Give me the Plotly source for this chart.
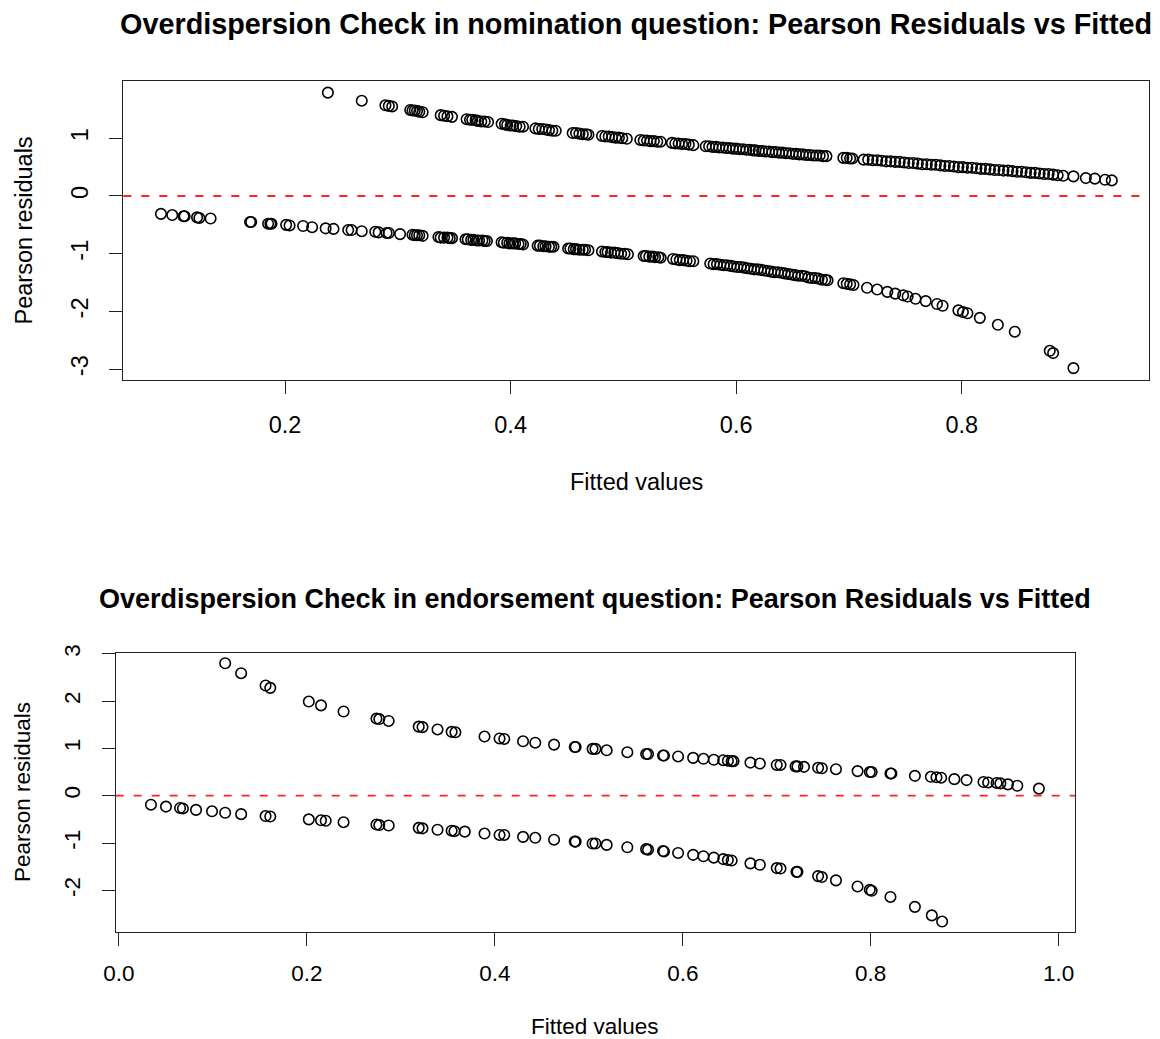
import plotly.graph_objects as go

# ---------------- data ----------------
# Top panel: nomination question, (fitted value, Pearson residual)
nom_negative = [
    (0.090, -0.31), (0.100, -0.33), (0.110, -0.35), (0.111, -0.35), (0.122, -0.37), (0.124, -0.38), (0.134, -0.39),
    (0.169, -0.45), (0.170, -0.45), (0.185, -0.48), (0.187, -0.48), (0.188, -0.48), (0.201, -0.50), (0.204, -0.51),
    (0.216, -0.52), (0.224, -0.54), (0.236, -0.56), (0.243, -0.57), (0.256, -0.59), (0.259, -0.59), (0.268, -0.61),
    (0.280, -0.62), (0.283, -0.63), (0.290, -0.64), (0.292, -0.64), (0.302, -0.66),
    (0.313, -0.67), (0.315, -0.68), (0.317, -0.68), (0.319, -0.68), (0.322, -0.69),
    (0.336, -0.71), (0.338, -0.72), (0.341, -0.72), (0.344, -0.72), (0.346, -0.73), (0.348, -0.73),
    (0.360, -0.75), (0.362, -0.75), (0.365, -0.76), (0.367, -0.76), (0.370, -0.77), (0.372, -0.77), (0.375, -0.77),
    (0.377, -0.78), (0.379, -0.78),
    (0.392, -0.80), (0.394, -0.81), (0.397, -0.81), (0.399, -0.82), (0.402, -0.82), (0.404, -0.82), (0.407, -0.83),
    (0.409, -0.83), (0.411, -0.84),
    (0.424, -0.86), (0.426, -0.86), (0.429, -0.87), (0.431, -0.87), (0.434, -0.88), (0.436, -0.88), (0.438, -0.88),
    (0.451, -0.91), (0.453, -0.91), (0.456, -0.92), (0.458, -0.92), (0.461, -0.93), (0.464, -0.93), (0.466, -0.93),
    (0.469, -0.94),
    (0.481, -0.96), (0.484, -0.97), (0.486, -0.97), (0.489, -0.98), (0.492, -0.98), (0.495, -0.99), (0.498, -1.00),
    (0.501, -1.00), (0.504, -1.01),
    (0.518, -1.04), (0.520, -1.04), (0.523, -1.05), (0.526, -1.05), (0.528, -1.06), (0.531, -1.06), (0.533, -1.07),
    (0.544, -1.09), (0.547, -1.10), (0.550, -1.11), (0.553, -1.11), (0.556, -1.12), (0.559, -1.13), (0.562, -1.13),
    (0.577, -1.17), (0.580, -1.18), (0.583, -1.18), (0.586, -1.19), (0.589, -1.20), (0.592, -1.20), (0.595, -1.21),
    (0.598, -1.22), (0.601, -1.23), (0.604, -1.23), (0.607, -1.24), (0.610, -1.25), (0.613, -1.26), (0.616, -1.27),
    (0.619, -1.27),
    (0.622, -1.28), (0.625, -1.29), (0.628, -1.30), (0.631, -1.31), (0.634, -1.32), (0.637, -1.32), (0.640, -1.33),
    (0.643, -1.34), (0.646, -1.35), (0.649, -1.36), (0.652, -1.37), (0.655, -1.38), (0.658, -1.38), (0.661, -1.39),
    (0.664, -1.41), (0.667, -1.42), (0.670, -1.42), (0.673, -1.43), (0.676, -1.45), (0.679, -1.45), (0.681, -1.46),
    (0.695, -1.51), (0.698, -1.52), (0.701, -1.53), (0.704, -1.54),
    (0.716, -1.59), (0.725, -1.62), (0.734, -1.66), (0.741, -1.69), (0.748, -1.72), (0.752, -1.74), (0.759, -1.78),
    (0.768, -1.82), (0.778, -1.87), (0.783, -1.90), (0.797, -1.98), (0.801, -2.01), (0.805, -2.03), (0.816, -2.11),
    (0.832, -2.23), (0.847, -2.35), (0.878, -2.68), (0.881, -2.72), (0.899, -2.98),
]

nom_positive = [
    (0.238, 1.79), (0.268, 1.65), (0.289, 1.57), (0.292, 1.56), (0.295, 1.55),
    (0.311, 1.49), (0.313, 1.48), (0.315, 1.48), (0.317, 1.47), (0.319, 1.46), (0.322, 1.45),
    (0.338, 1.40), (0.341, 1.39), (0.344, 1.38), (0.348, 1.37),
    (0.361, 1.33), (0.364, 1.32), (0.366, 1.32), (0.369, 1.31), (0.371, 1.30), (0.374, 1.29), (0.377, 1.29),
    (0.380, 1.28),
    (0.392, 1.25), (0.395, 1.24), (0.397, 1.23), (0.400, 1.22), (0.402, 1.22), (0.405, 1.21), (0.408, 1.20),
    (0.411, 1.20),
    (0.422, 1.17), (0.425, 1.16), (0.428, 1.16), (0.431, 1.15), (0.434, 1.14), (0.437, 1.13), (0.440, 1.13),
    (0.455, 1.09), (0.458, 1.09), (0.461, 1.08), (0.464, 1.07), (0.467, 1.07), (0.469, 1.06),
    (0.481, 1.04), (0.484, 1.03), (0.487, 1.03), (0.490, 1.02), (0.493, 1.01), (0.496, 1.01), (0.499, 1.00),
    (0.503, 0.99),
    (0.515, 0.97), (0.518, 0.96), (0.521, 0.96), (0.524, 0.95), (0.527, 0.95), (0.530, 0.94), (0.533, 0.94),
    (0.543, 0.92), (0.546, 0.91), (0.549, 0.91), (0.552, 0.90), (0.555, 0.90), (0.558, 0.89), (0.562, 0.88),
    (0.573, 0.86), (0.576, 0.86), (0.579, 0.85), (0.582, 0.85), (0.585, 0.84), (0.588, 0.84), (0.591, 0.83),
    (0.594, 0.83), (0.597, 0.82), (0.600, 0.82), (0.603, 0.81), (0.606, 0.81), (0.609, 0.80), (0.612, 0.80),
    (0.615, 0.79), (0.617, 0.79),
    (0.620, 0.78), (0.623, 0.78), (0.626, 0.77), (0.629, 0.77), (0.632, 0.76), (0.635, 0.76), (0.638, 0.75),
    (0.641, 0.75), (0.644, 0.74), (0.647, 0.74), (0.650, 0.73), (0.653, 0.73), (0.656, 0.72), (0.659, 0.72),
    (0.662, 0.71), (0.665, 0.71), (0.668, 0.70), (0.671, 0.70), (0.674, 0.70), (0.677, 0.69), (0.680, 0.69),
    (0.695, 0.66), (0.698, 0.66), (0.701, 0.65), (0.703, 0.65),
    (0.713, 0.63), (0.717, 0.63), (0.721, 0.62), (0.725, 0.62), (0.729, 0.61), (0.733, 0.60), (0.737, 0.60),
    (0.741, 0.59), (0.745, 0.59), (0.749, 0.58), (0.753, 0.57), (0.757, 0.57), (0.761, 0.56), (0.765, 0.55),
    (0.769, 0.55), (0.773, 0.54), (0.777, 0.54), (0.781, 0.53), (0.785, 0.52), (0.789, 0.52), (0.793, 0.51),
    (0.797, 0.50), (0.801, 0.50), (0.805, 0.49), (0.809, 0.49), (0.813, 0.48), (0.817, 0.47), (0.821, 0.47),
    (0.825, 0.46), (0.829, 0.45), (0.833, 0.45), (0.837, 0.44), (0.841, 0.44), (0.845, 0.43), (0.849, 0.42),
    (0.853, 0.42), (0.857, 0.41), (0.861, 0.40), (0.865, 0.40), (0.869, 0.39), (0.873, 0.38), (0.877, 0.38),
    (0.881, 0.37), (0.885, 0.36), (0.890, 0.35), (0.899, 0.34), (0.910, 0.31), (0.918, 0.30), (0.927, 0.28),
    (0.933, 0.27),
]

# Bottom panel: endorsement question
end_negative = [
    (0.034, -0.19), (0.050, -0.23), (0.065, -0.26), (0.068, -0.27), (0.082, -0.30), (0.099, -0.33), (0.113, -0.36),
    (0.130, -0.39), (0.156, -0.43), (0.161, -0.44), (0.202, -0.50), (0.215, -0.52), (0.220, -0.53), (0.239, -0.56),
    (0.274, -0.61), (0.277, -0.62), (0.287, -0.63), (0.319, -0.68), (0.323, -0.69), (0.339, -0.72), (0.354, -0.74),
    (0.357, -0.75), (0.368, -0.76), (0.389, -0.80), (0.405, -0.83), (0.410, -0.83), (0.430, -0.87), (0.443, -0.89),
    (0.463, -0.93), (0.485, -0.97), (0.486, -0.97), (0.504, -1.01), (0.507, -1.01), (0.519, -1.04), (0.541, -1.09),
    (0.561, -1.13), (0.563, -1.14), (0.579, -1.17), (0.580, -1.18), (0.595, -1.21), (0.611, -1.25), (0.622, -1.28),
    (0.633, -1.31), (0.643, -1.34), (0.648, -1.36), (0.652, -1.37), (0.672, -1.43), (0.682, -1.46), (0.700, -1.53),
    (0.704, -1.54), (0.721, -1.61), (0.722, -1.61), (0.744, -1.70), (0.748, -1.72), (0.763, -1.79), (0.786, -1.92),
    (0.799, -1.99), (0.801, -2.01), (0.821, -2.14), (0.847, -2.35), (0.865, -2.53), (0.876, -2.66),
]

end_positive = [
    (0.113, 2.80), (0.130, 2.59), (0.156, 2.33), (0.161, 2.28), (0.202, 1.99), (0.215, 1.91), (0.239, 1.78),
    (0.274, 1.63), (0.277, 1.62), (0.287, 1.58), (0.319, 1.46), (0.323, 1.45), (0.339, 1.40), (0.354, 1.35),
    (0.358, 1.34), (0.389, 1.25), (0.405, 1.21), (0.410, 1.20), (0.430, 1.15), (0.443, 1.12), (0.463, 1.08),
    (0.485, 1.03), (0.486, 1.03), (0.504, 0.99), (0.507, 0.99), (0.519, 0.96), (0.541, 0.92), (0.561, 0.88),
    (0.563, 0.88), (0.579, 0.85), (0.580, 0.85), (0.595, 0.83), (0.611, 0.80), (0.622, 0.78), (0.633, 0.76),
    (0.643, 0.75), (0.648, 0.74), (0.652, 0.73), (0.654, 0.73), (0.672, 0.70), (0.682, 0.68), (0.700, 0.65),
    (0.704, 0.65), (0.720, 0.62), (0.722, 0.62), (0.729, 0.61), (0.744, 0.59), (0.748, 0.58), (0.763, 0.56),
    (0.786, 0.52), (0.799, 0.50), (0.801, 0.50), (0.821, 0.47), (0.822, 0.47), (0.847, 0.42), (0.864, 0.40),
    (0.870, 0.39), (0.875, 0.38), (0.889, 0.35), (0.902, 0.33), (0.920, 0.29), (0.925, 0.28), (0.934, 0.27),
    (0.938, 0.26), (0.946, 0.24), (0.956, 0.21), (0.979, 0.15),
]

top_xticks = [0.2, 0.4, 0.6, 0.8]
top_xticklabels = ["0.2", "0.4", "0.6", "0.8"]
top_yticks = [-3, -2, -1, 0, 1]
top_yticklabels = ["-3", "-2", "-1", "0", "1"]
bot_xticks = [0.0, 0.2, 0.4, 0.6, 0.8, 1.0]
bot_xticklabels = ["0.0", "0.2", "0.4", "0.6", "0.8", "1.0"]
bot_yticks = [-2, -1, 0, 1, 2, 3]
bot_yticklabels = ["-2", "-1", "0", "1", "2", "3"]

title_top = "Overdispersion Check in nomination question: Pearson Residuals vs Fitted"
title_bot = "Overdispersion Check in endorsement question: Pearson Residuals vs Fitted"
xlab = "Fitted values"
ylab = "Pearson residuals"

# ---------------- figure ----------------
W, H = 1160, 1039
FONT = "Liberation Sans, Arial, Helvetica, sans-serif"
AX = "#222222"

marker = dict(symbol="circle-open", size=10.5, color="black", line=dict(width=1.6, color="black"))

fig = go.Figure()
for pts, xa, ya in [(nom_negative, "x", "y"), (nom_positive, "x", "y"),
                    (end_negative, "x2", "y2"), (end_positive, "x2", "y2")]:
    fig.add_trace(go.Scatter(
        x=[p[0] for p in pts], y=[p[1] for p in pts], mode="markers",
        marker=marker, xaxis=xa, yaxis=ya, showlegend=False, hoverinfo="skip"))


def px_x(v):
    return v / W


def px_y(v):
    return 1 - v / H


def axis_common(size):
    return dict(showgrid=False, zeroline=False, showline=True, mirror=True,
                automargin=False,
                linecolor=AX, linewidth=1.3, ticks="outside", ticklen=13,
                tickwidth=1.2, tickcolor=AX,
                tickfont=dict(family=FONT, size=size, color="black"))


fig.update_layout(
    template="none",
    width=W, height=H, margin=dict(l=0, r=0, t=0, b=0, pad=0, autoexpand=False),
    paper_bgcolor="white", plot_bgcolor="white", showlegend=False,
    xaxis=dict(domain=[px_x(123.3), px_x(1149)], range=[0.0566, 0.966], anchor="y",
               tickmode="array", tickvals=top_xticks, ticktext=top_xticklabels,
               ticklabelstandoff=11, **axis_common(23.5)),
    yaxis=dict(domain=[px_y(380), px_y(81)], range=[-3.186, 1.991], anchor="x",
               tickmode="array", tickvals=top_yticks, ticktext=top_yticklabels, tickangle=-90,
               ticklabelstandoff=12, **axis_common(23.5)),
    xaxis2=dict(domain=[px_x(115.7), px_x(1075)], range=[-0.0035, 1.0174], anchor="y2",
                tickmode="array", tickvals=bot_xticks, ticktext=bot_xticklabels,
                ticklabelstandoff=8, **axis_common(22.5)),
    yaxis2=dict(domain=[px_y(931.7), px_y(652.7)], range=[-2.875, 3.023], anchor="x2",
                tickmode="array", tickvals=bot_yticks, ticktext=bot_yticklabels, tickangle=-90,
                ticklabelstandoff=13, **axis_common(22.5)),
)

for yref in ["y", "y2"]:
    xref = "x domain" if yref == "y" else "x2 domain"
    fig.add_shape(type="line", xref=xref, x0=0, x1=1, yref=yref, y0=0, y1=0,
                  line=dict(color="#ff2020", width=1.8, dash="8px,10px"), layer="above")

ann = []
ann.append(dict(text=f"<b>{title_top}</b>", x=px_x(636), y=px_y(24.5),
                font=dict(family=FONT, size=28.8, color="black")))
ann.append(dict(text=xlab, x=px_x(636), y=px_y(482), font=dict(family=FONT, size=23.5, color="black")))
ann.append(dict(text=ylab, x=px_x(23), y=px_y(230.5), textangle=-90,
                font=dict(family=FONT, size=23.5, color="black")))
ann.append(dict(text=f"<b>{title_bot}</b>", x=px_x(595.4), y=px_y(599),
                font=dict(family=FONT, size=27, color="black")))
ann.append(dict(text=xlab, x=px_x(595.4), y=px_y(1026), font=dict(family=FONT, size=22.5, color="black")))
ann.append(dict(text=ylab, x=px_x(22), y=px_y(792), textangle=-90,
                font=dict(family=FONT, size=22.5, color="black")))
for a in ann:
    a.update(xref="paper", yref="paper", showarrow=False, xanchor="center", yanchor="middle")
    fig.add_annotation(**a)

fig.write_html("out.html")
